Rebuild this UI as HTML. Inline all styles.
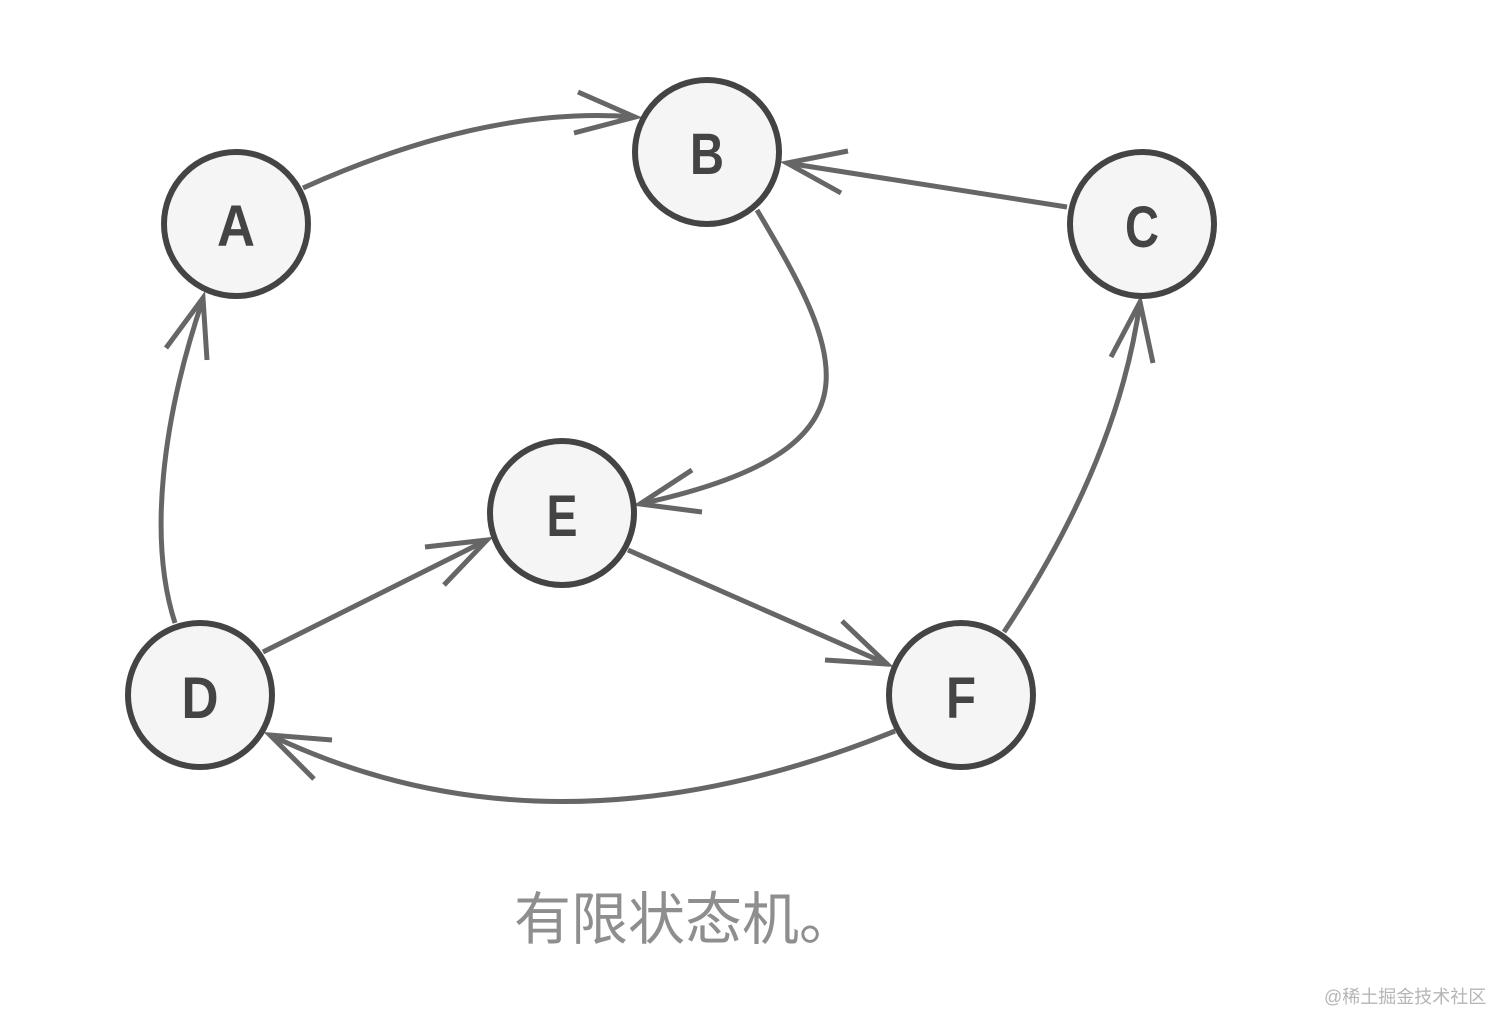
<!DOCTYPE html>
<html>
<head>
<meta charset="utf-8">
<style>
  html, body { margin:0; padding:0; background:#ffffff; }
  body { width:1512px; height:1034px; overflow:hidden; }
  svg { display:block; }
</style>
</head>
<body>
<svg width="1512" height="1034" viewBox="0 0 1512 1034" xmlns="http://www.w3.org/2000/svg">
  <rect width="1512" height="1034" fill="#ffffff"/>

  <!-- edges -->
  <g fill="none" stroke="#666666" stroke-width="5" stroke-linecap="butt" stroke-linejoin="miter">
    <!-- A -> B -->
    <path d="M303,188 Q488,105 635,117"/>
    <polyline points="578,92 635,117 574,133"/>
    <!-- C -> B -->
    <path d="M1067,207 L787,163"/>
    <polyline points="848,151 787,163 841,193"/>
    <!-- B -> E -->
    <path d="M757,210 C844,356 890,450 640,504"/>
    <polyline points="692,470 640,504 702,512"/>
    <!-- E -> F -->
    <path d="M628,550 L887,664"/>
    <polyline points="842,621 887,664 825,660"/>
    <!-- F -> C -->
    <path d="M1004,632 Q1118,461 1140,302"/>
    <polyline points="1111,357 1140,302 1153,363"/>
    <!-- F -> D -->
    <path d="M895,731 Q552,870 270,735"/>
    <polyline points="332,740 270,735 314,779"/>
    <!-- D -> A -->
    <path d="M175,623 C148,540 162,420 203,299"/>
    <polyline points="166,348 203,298 207,360"/>
    <!-- D -> E -->
    <path d="M263,652 L487,540"/>
    <polyline points="425,547 487,540 444,585"/>
  </g>

  <!-- nodes -->
  <g fill="#f5f5f5" stroke="#444444" stroke-width="6">
    <circle cx="236" cy="224" r="72"/>
    <circle cx="707" cy="152" r="72"/>
    <circle cx="1142" cy="224" r="72"/>
    <circle cx="200" cy="695" r="72"/>
    <circle cx="562" cy="513" r="72"/>
    <circle cx="961" cy="695" r="72"/>
  </g>

  <g fill="#444444" font-family="'Liberation Sans', sans-serif" font-weight="bold" font-size="58" text-anchor="middle">
    <text x="236" y="246" textLength="38" lengthAdjust="spacingAndGlyphs">A</text>
    <text x="707" y="174" textLength="34" lengthAdjust="spacingAndGlyphs">B</text>
    <text x="1142" y="247" textLength="34" lengthAdjust="spacingAndGlyphs">C</text>
    <text x="200" y="718" textLength="37" lengthAdjust="spacingAndGlyphs">D</text>
    <text x="562" y="536" textLength="31" lengthAdjust="spacingAndGlyphs">E</text>
    <text x="961" y="718" textLength="30" lengthAdjust="spacingAndGlyphs">F</text>
  </g>

  <!-- caption -->
  <text x="514" y="939" fill="#8e8e8e" font-family="'Noto Sans CJK SC', sans-serif" font-size="57">有限状态机。</text>

  <!-- watermark -->
  <text x="1324" y="1003" fill="#b5b5b5" font-family="'Liberation Sans', 'Noto Sans CJK SC', sans-serif" font-size="18">@稀土掘金技术社区</text>
</svg>
</body>
</html>
